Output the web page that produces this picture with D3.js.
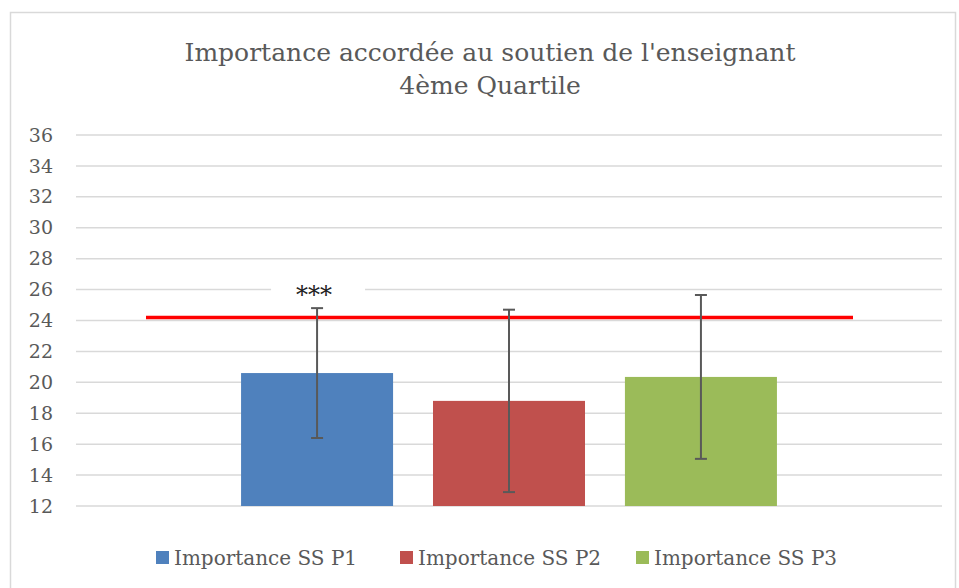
<!DOCTYPE html>
<html>
<head>
<meta charset="utf-8">
<script src="https://cdn.jsdelivr.net/npm/d3@7"></script>
<style>
	body { margin: 0; background: #fff; }
	text { font-family: 'DejaVu Serif', 'Liberation Serif', serif; fill: #595959; }
</style>
</head>
<body>
<div id="root"></div>
<script>
const series = ['Importance SS P1', 'Importance SS P2', 'Importance SS P3']
const means = [20.6, 18.8, 20.35]
const errors = [4.2, 5.9, 5.3]
const colors = ['#4f81bd', '#c0504d', '#9bbb59']
const yTicks = [12, 14, 16, 18, 20, 22, 24, 26, 28, 30, 32, 34, 36]
const reference = 24.2
const signif = ['***', '', '']
const titleLines = ["Importance accordée au soutien de l'enseignant", '4ème Quartile']

const C = {
	width: 959,
	height: 588,
	plot: { left: 76, right: 942, top: 135, bottom: 506 },
}

const svg = d3.select('#root').append('svg')
	.attr('width', C.width)
	.attr('height', C.height)

// chart frame
svg.append('rect')
	.attr('x', 10.5).attr('y', 12.5)
	.attr('width', 945).attr('height', 600)
	.attr('fill', 'none')
	.attr('stroke', '#d9d9d9')
	.attr('stroke-width', 1.5)

svg.selectAll('.title')
	.data(titleLines)
	.enter()
	.append('text')
	.attr('class', 'title')
	.attr('x', 490)
	.attr('y', (d, i) => 61 + i * 33)
	.attr('text-anchor', 'middle')
	.style('font-size', '25px')
	.text(d => d)

const yScale = d3.scaleLinear()
	.domain([12, 36])
	.range([C.plot.bottom, C.plot.top])

const xScale = d3.scaleBand()
	.domain(series)
	.range([C.plot.left, C.plot.right])
	.paddingInner(0.208)
	.paddingOuter(0.86)

// grid
svg.append('g')
	.selectAll('line')
	.data(yTicks)
	.enter()
	.append('line')
	.attr('x1', C.plot.left)
	.attr('x2', C.plot.right)
	.attr('y1', d => yScale(d))
	.attr('y2', d => yScale(d))
	.attr('stroke', '#d9d9d9')
	.attr('stroke-width', 1.5)

const axisY = d3.axisLeft(yScale)
	.tickValues(yTicks)
	.tickSize(0)
	.tickPadding(0)

svg.append('g')
	.attr('transform', 'translate(53,0)')
	.call(axisY)
	.call(g => g.select('.domain').remove())
	.call(g => g.selectAll('text')
		.attr('fill', '#595959')
		.style('font-size', '19px')
		.style('font-family', "'DejaVu Serif', serif"))

// bars
svg.selectAll('.bar')
	.data(series)
	.enter()
	.append('rect')
	.attr('class', 'bar')
	.attr('x', d => xScale(d))
	.attr('y', (d, i) => yScale(means[i]))
	.attr('width', xScale.bandwidth())
	.attr('height', (d, i) => yScale(12) - yScale(means[i]))
	.attr('fill', (d, i) => colors[i])

// reference line
svg.append('line')
	.attr('x1', 146)
	.attr('x2', 853)
	.attr('y1', yScale(reference))
	.attr('y2', yScale(reference))
	.attr('stroke', '#ff0000')
	.attr('stroke-width', 3.5)

// error bars
const err = svg.selectAll('.err')
	.data(series)
	.enter()
	.append('g')
	.attr('class', 'err')
	.attr('stroke', '#595959')
	.attr('stroke-width', 2)

const cx = d => xScale(d) + xScale.bandwidth() / 2

err.append('line')
	.attr('x1', cx).attr('x2', cx)
	.attr('y1', (d, i) => yScale(means[i] + errors[i]))
	.attr('y2', (d, i) => yScale(means[i] - errors[i]))

err.append('line')
	.attr('x1', d => cx(d) - 6).attr('x2', d => cx(d) + 6)
	.attr('y1', (d, i) => yScale(means[i] + errors[i]))
	.attr('y2', (d, i) => yScale(means[i] + errors[i]))

err.append('line')
	.attr('x1', d => cx(d) - 6).attr('x2', d => cx(d) + 6)
	.attr('y1', (d, i) => yScale(means[i] - errors[i]))
	.attr('y2', (d, i) => yScale(means[i] - errors[i]))

// significance label
series.forEach((s, i) => {
	if (!signif[i]) return
	svg.append('rect')
		.attr('x', cx(s) - 46)
		.attr('y', 278)
		.attr('width', 94)
		.attr('height', 24)
		.attr('fill', '#fff')
	svg.append('text')
		.attr('x', cx(s) - 3)
		.attr('y', 303)
		.attr('text-anchor', 'middle')
		.style('font-size', '24px')
		.style('fill', '#222')
		.text(signif[i])
})

// legend
const legendX = [156, 400, 636]
const legend = svg.selectAll('.legend')
	.data(series)
	.enter()
	.append('g')
	.attr('class', 'legend')
	.attr('transform', (d, i) => `translate(${legendX[i]},557.5)`)

legend.append('rect')
	.attr('x', 0).attr('y', -6.5)
	.attr('width', 13).attr('height', 13)
	.attr('fill', (d, i) => colors[i])

legend.append('text')
	.attr('x', 18)
	.attr('y', 7)
	.style('font-size', '20px')
	.text(d => d)
</script>
</body>
</html>
